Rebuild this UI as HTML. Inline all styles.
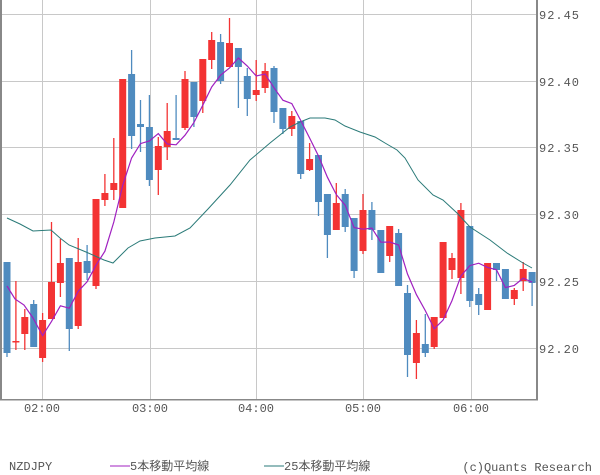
<!DOCTYPE html>
<html><head><meta charset="utf-8"><style>
body{margin:0;background:#fff;width:600px;height:475px;overflow:hidden}
svg{display:block}
text{font-family:"Liberation Mono","Noto Sans CJK JP",monospace;fill:#555;font-size:12px}
</style></head><body>
<svg id="s" width="600" height="475" xmlns="http://www.w3.org/2000/svg"></svg>
<script>
var C=[
['b',262,353,262,357],['r',341,341,281,350],['r',317,334,309,350],['b',304,347,300,347],['r',320,358,313,362],
['r',282,319,222,319],['r',263,283,239,297],['b',258,329,258,351],['r',262,326,238,329],['b',261,273,245,280],
['r',199,286,199,289],['r',193,200,174,206],['r',183,190,138,200],['r',79,208,79,208],['b',74,136,50,149],
['b',124,127,100,152],['b',127,180,95,186],['r',146,170,137,195],['r',131,147,103,160],['b',138,140,95,140],
['r',79,128,71,130],['b',82,117,82,127],['r',59,101,59,113],['r',40,60,32,69],['b',42,81,34,84],
['r',43,67,18,67],['b',48,67,48,108],['b',76,99,68,116],['r',90,95,60,101],['r',71,88,63,93],
['b',68,112,66,123],['b',108,129,108,134],['r',116,129,111,136],['b',121,174,121,179],['r',159,170,143,171],
['b',155,202,155,216],['b',194,235,194,258],['r',203,230,183,230],['b',194,227,189,232],['b',218,271,218,278],
['r',210,251,194,254],['b',210,230,202,240],['b',230,273,230,273],['r',226,256,226,262],['b',233,286,229,286],
['b',293,355,285,377],['r',333,363,320,379],['b',344,353,314,357],['r',317,347,317,349],['r',242,318,242,318],
['r',258,270,253,279],['r',210,278,203,294],['b',226,301,226,307],['b',294,305,288,315],['r',263,310,263,310],
['b',263,270,263,281],['b',269,299,269,299],['r',290,299,288,305],['r',269,281,262,291],['b',272,283,272,306]];
var s='';
// grid
[14,81,147,214,281,348].forEach(function(y){s+='<line x1="0" y1="'+(y+.5)+'" x2="537" y2="'+(y+.5)+'" stroke="#c8c8c8" stroke-width="1"/>';});
[42,150,256,363,471].forEach(function(x){s+='<line x1="'+(x+.5)+'" y1="0" x2="'+(x+.5)+'" y2="399" stroke="#c8c8c8" stroke-width="1"/>';});
var ma25=[[7,218],[20,224],[33,231],[51,230],[60,238],[69,245],[86,252],[104,260],[113,263],[120,256],[128,248],[140,241],[155,238],[175,236],[190,228],[208,209],[230,185],[250,160],[270,143],[290,127],[300,122],[310,118],[325,118],[335,120],[345,126],[360,132],[375,137],[385,143],[397,150],[405,158],[418,180],[433,195],[443,200],[457,213],[470,227],[490,240],[507,253],[523,263],[532,268]];
// candles
var cl=[],xs=[];
C.forEach(function(c,i){var x=7+i*8.9;xs.push(x);var col=c[0]=='r'?'#f33333':'#4f8bbf';
 s+='<line x1="'+x+'" y1="'+c[3]+'" x2="'+x+'" y2="'+c[4]+'" stroke="'+col+'" stroke-width="1.3"/>';
 var h=Math.max(c[2]-c[1],1.5);
 s+='<rect x="'+(x-3.5)+'" y="'+c[1]+'" width="7" height="'+h+'" fill="'+col+'"/>';
 cl.push(c[0]=='r'?c[1]:c[2]);});
var m5=[[7,286],[15,299],[24,305],[33,318]];
for(var i=4;i<cl.length;i++){var a=0;for(var j=i-4;j<=i;j++)a+=cl[j];m5.push([xs[i],a/5]);}
s+='<polyline fill="none" stroke="#2a7a78" stroke-width="1" points="'+ma25.map(function(p){return p.join(',')}).join(' ')+'"/>';
s+='<polyline fill="none" stroke="#a020c0" stroke-width="1.2" points="'+m5.map(function(p){return p[0].toFixed(1)+','+p[1].toFixed(1)}).join(' ')+'"/>';
// borders
s+='<rect x="0" y="0" width="2" height="400" fill="#888"/><rect x="536" y="0" width="2" height="400" fill="#888"/><rect x="0" y="399" width="538" height="1.5" fill="#888"/>';
['92.45','92.40','92.35','92.30','92.25','92.20'].forEach(function(t,k){s+='<text x="539" y="'+([14,81,147,214,281,348][k]+5)+'" letter-spacing="1">'+t+'</text>';});
['02:00','03:00','04:00','05:00','06:00'].forEach(function(t,k){s+='<text x="'+[42,150,256,363,471][k]+'" y="412" text-anchor="middle">'+t+'</text>';});
s+='<text x="9" y="470">NZDJPY</text>';
s+='<line x1="110" y1="466" x2="130" y2="466" stroke="#a020c0"/><text x="130" y="470">5本移動平均線</text>';
s+='<line x1="264" y1="466" x2="284" y2="466" stroke="#2a7a78"/><text x="284" y="470">25本移動平均線</text>';
s+='<text x="592" y="471" text-anchor="end">(c)Quants Research</text>';
document.getElementById('s').innerHTML=s;
</script>
</body></html>
